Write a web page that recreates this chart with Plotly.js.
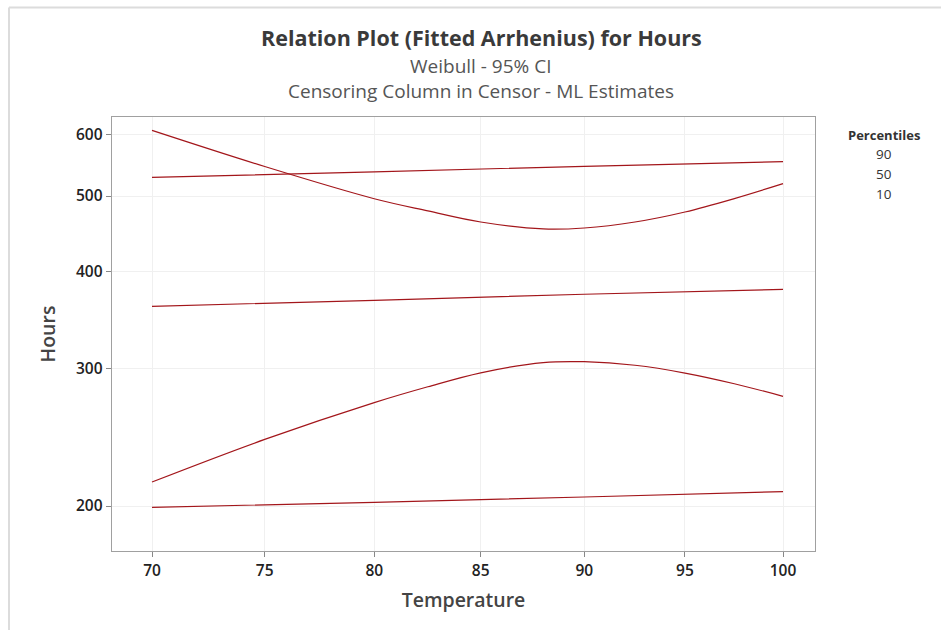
<!DOCTYPE html>
<html>
<head>
<meta charset="utf-8">
<script src="https://cdn.plot.ly/plotly-3.0.1.min.js"></script>
<style>html,body{margin:0;padding:0;background:#fff;}#chart{width:941px;height:630px;}</style>
</head>
<body>
<div id="chart"></div>
<script>
// Temperatures (deg C) at which curves were read
const curveTemps = [70, 75, 80, 82.5, 85, 88, 90, 92.5, 95, 97.5, 100];
const lineTemps = [70, 80, 90, 100];
// Hours values
const upperBand = [607, 545.5, 496.0, 478.5, 463.0, 453.6, 454.9, 463.0, 476.9, 496.2, 518.6];
const lowerBand = [214.7, 243.5, 271.5, 284.5, 296.5, 305.6, 306.4, 303.2, 296.3, 287.1, 276.6];
const p90 = [528.3, 537.0, 545.9, 553.5];
const p50 = [360.9, 367.4, 374.0, 379.5];
const p10 = [199.2, 202.2, 205.4, 208.7];
const xTickTemps = [70, 75, 80, 85, 90, 95, 100];
const yTickVals = [200, 300, 400, 500, 600];
const percentileLabels = ['90', '50', '10'];

// Arrhenius scale: 1000/(T + 273.15), reversed axis
const arr = t => 1000 / (t + 273.15);
const lineColor = '#a3161b';
function tr(temps, vals, name) {
  return {x: temps.map(arr), y: vals, type: 'scatter', mode: 'lines', name: name,
    line: {color: lineColor, width: 1.2, shape: 'spline', smoothing: 1}, hoverinfo: 'skip'};
}
const data = [
  tr(curveTemps, upperBand, 'Upper CI'),
  tr(lineTemps, p90, '90'),
  tr(lineTemps, p50, '50'),
  tr(curveTemps, lowerBand, 'Lower CI'),
  tr(lineTemps, p10, '10')
];

const fontFam = 'Open Sans, Noto Sans, sans-serif';
const py = px => (551 - px) / 434;
const annotations = [
  {text: '<b>Relation Plot (Fitted Arrhenius) for Hours</b>', x: 0.5249, y: py(37.5), xref: 'paper', yref: 'paper',
   showarrow: false, xanchor: 'center', yanchor: 'middle', font: {size: 21.5, color: '#3a3a3a', family: fontFam}},
  {text: 'Weibull - 95% CI', x: 0.5249, y: py(65.5), xref: 'paper', yref: 'paper',
   showarrow: false, xanchor: 'center', yanchor: 'middle', font: {size: 19, color: '#555', family: fontFam}},
  {text: 'Censoring Column in Censor - ML Estimates', x: 0.5249, y: py(91), xref: 'paper', yref: 'paper',
   showarrow: false, xanchor: 'center', yanchor: 'middle', font: {size: 19, color: '#555', family: fontFam}},
  {text: '<b>Percentiles</b>', x: (884 - 112) / 703, y: py(135), xref: 'paper', yref: 'paper',
   showarrow: false, xanchor: 'center', yanchor: 'middle', font: {size: 13, color: '#333', family: fontFam}}
];
percentileLabels.forEach((lab, i) => {
  annotations.push({text: lab, x: (884 - 112) / 703, y: py(154 + i * 20), xref: 'paper', yref: 'paper',
    showarrow: false, xanchor: 'center', yanchor: 'middle', font: {size: 13.5, color: '#333', family: fontFam}});
});

const layout = {
  width: 941, height: 630,
  margin: {l: 112, r: 126, t: 117, b: 79},
  paper_bgcolor: '#fff', plot_bgcolor: '#fff',
  showlegend: false,
  font: {family: fontFam},
  xaxis: {
    range: [2.92903, 2.66801],
    tickvals: xTickTemps.map(arr), ticktext: xTickTemps.map(String),
    showgrid: true, gridcolor: '#f0f0f0', gridwidth: 1,
    showline: true, mirror: true, linecolor: '#a0a0a0', linewidth: 1.3,
    ticks: 'outside', ticklen: 5, tickcolor: '#888', zeroline: false,
    tickfont: {size: 15.5, color: '#222', family: fontFam, weight: 600},
    title: {text: 'Temperature', standoff: 13, font: {size: 19.5, color: '#444', family: fontFam, weight: 600}}
  },
  yaxis: {
    type: 'log', range: [2.2433, 2.8004],
    tickvals: yTickVals, ticktext: yTickVals.map(String),
    showgrid: true, gridcolor: '#f0f0f0', gridwidth: 1,
    showline: true, mirror: true, linecolor: '#a0a0a0', linewidth: 1.3,
    ticks: 'outside', ticklen: 5, tickcolor: '#888', zeroline: false,
    tickfont: {size: 15.5, color: '#222', family: fontFam, weight: 600},
    title: {text: 'Hours', standoff: 15, font: {size: 19.5, color: '#444', family: fontFam, weight: 600}}
  },
  annotations: annotations,
  shapes: [
    {type: 'line', xref: 'paper', yref: 'paper', x0: (9 - 112) / 703, x1: (941 - 112) / 703,
     y0: py(7.5), y1: py(7.5), line: {color: '#dcdcdc', width: 2}},
    {type: 'line', xref: 'paper', yref: 'paper', x0: (9 - 112) / 703, x1: (9 - 112) / 703,
     y0: py(7.5), y1: py(630), line: {color: '#dcdcdc', width: 2}}
  ]
};
Plotly.newPlot('chart', data, layout, {displayModeBar: false, staticPlot: true});
</script>
</body>
</html>
